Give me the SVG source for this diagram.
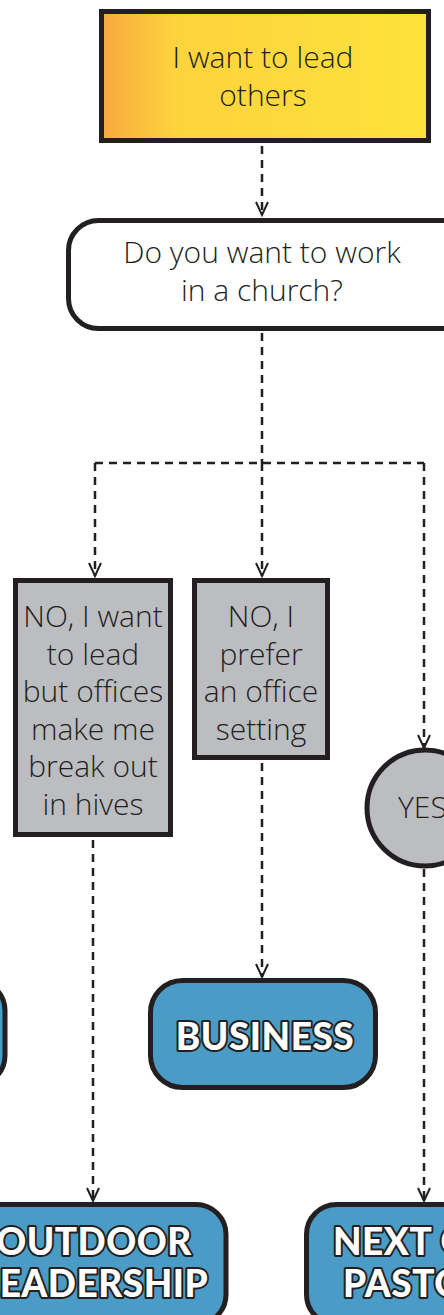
<svg xmlns="http://www.w3.org/2000/svg" width="444" height="1315" viewBox="0 0 444 1315">
<defs>
<linearGradient id="gy" x1="0" y1="0" x2="1" y2="0">
<stop offset="0" stop-color="#f7a93c"/>
<stop offset="0.22" stop-color="#fdd33d"/>
<stop offset="1" stop-color="#fee23b"/>
</linearGradient>
<marker id="ah" markerWidth="16" markerHeight="16" refX="14" refY="8" orient="auto" markerUnits="userSpaceOnUse" viewBox="0 0 16 16">
<path d="M1,2 L14,8 L1,14" fill="none" stroke="#231f20" stroke-width="2"/>
</marker>
<style>
.bx{stroke:#231f20;stroke-width:5}
.grey{fill:#bcbdc0}
.blue{fill:#4a9cc7}
.lt{font-family:"Open Sans",Lato,"Liberation Sans",sans-serif;font-weight:300;font-size:30px;fill:#231f20;text-anchor:middle}
.hv{font-family:Lato,"Open Sans","Liberation Sans",sans-serif;font-weight:900;font-size:37px;letter-spacing:0.5px;fill:#fff;stroke:#231f20;stroke-width:4;stroke-linejoin:round;paint-order:stroke;text-anchor:middle}
.cn{fill:none;stroke:#231f20;stroke-width:2.5;stroke-dasharray:8 6}
</style>
</defs>
<rect width="444" height="1315" fill="#fff"/>
<g id="connectors">
<path class="cn" d="M262,146 V215" marker-end="url(#ah)"/>
<path class="cn" d="M262,333 V463"/>
<path class="cn" d="M95,463 H424"/>
<path class="cn" d="M95,463 V576" marker-end="url(#ah)"/>
<path class="cn" d="M262,463 V576" marker-end="url(#ah)"/>
<path class="cn" d="M424,463 V748" marker-end="url(#ah)"/>
<path class="cn" d="M262,763 V977" marker-end="url(#ah)"/>
<path class="cn" d="M93,840 V1201" marker-end="url(#ah)"/>
<path class="cn" d="M424,869 V1201" marker-end="url(#ah)"/>
</g>
<g id="start">
<rect class="bx" x="101.5" y="11.5" width="327" height="129" fill="url(#gy)"/>
<text class="lt" x="263" y="68">I want to lead</text>
<text class="lt" x="263" y="105.5">others</text>
</g>
<g id="church">
<rect class="bx" x="68.5" y="220.5" width="420" height="108" rx="30" fill="#fff"/>
<text class="lt" x="262" y="263">Do you want to work</text>
<text class="lt" x="262" y="300.5">in a church?</text>
</g>
<g id="no-hives">
<rect class="bx grey" x="15.5" y="580.5" width="155" height="254"/>
<text class="lt" x="93" y="627">NO, I want</text>
<text class="lt" x="93" y="664.5">to lead</text>
<text class="lt" x="93" y="702">but offices</text>
<text class="lt" x="93" y="739.5">make me</text>
<text class="lt" x="93" y="777">break out</text>
<text class="lt" x="93" y="814.5">in hives</text>
</g>
<g id="no-office">
<rect class="bx grey" x="194.5" y="580.5" width="133" height="177"/>
<text class="lt" x="261" y="627">NO, I</text>
<text class="lt" x="261" y="664.5">prefer</text>
<text class="lt" x="261" y="702">an office</text>
<text class="lt" x="261" y="739.5">setting</text>
</g>
<g id="yes">
<circle class="bx grey" cx="425" cy="808" r="58"/>
<text class="lt" x="398" y="818" style="text-anchor:start">YES</text>
</g>
<g id="left-partial">
<rect class="bx blue" x="-220" y="980.5" width="225" height="105" rx="30"/>
</g>
<g id="business">
<rect class="bx blue" x="150.5" y="980.5" width="225" height="107" rx="32"/>
<text class="hv" x="265" y="1050">BUSINESS</text>
</g>
<g id="outdoor">
<rect class="bx blue" x="-40" y="1204.5" width="266" height="120" rx="30"/>
<text class="hv" x="94" y="1255">OUTDOOR</text>
<text class="hv" x="94" y="1297">LEADERSHIP</text>
</g>
<g id="next-gen">
<rect class="bx blue" x="306.5" y="1204.5" width="260" height="120" rx="30"/>
<text class="hv" x="333" y="1255" style="text-anchor:start">NEXT GEN</text>
<text class="hv" x="343" y="1297" style="text-anchor:start">PASTOR</text>
</g>
</svg>
